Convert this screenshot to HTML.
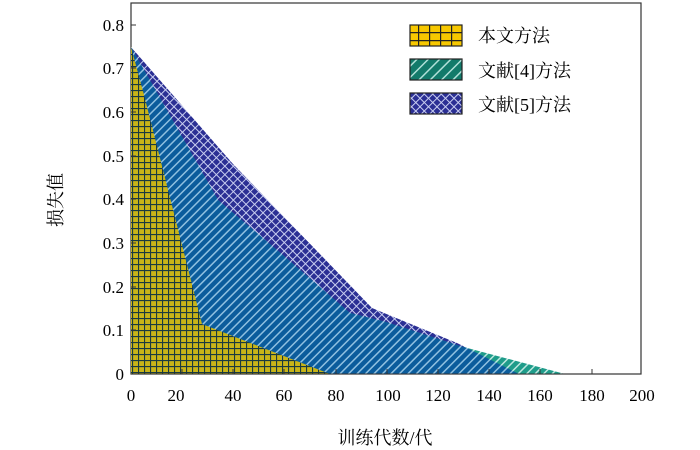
<!DOCTYPE html><html><head><style>body{margin:0;background:#fff}svg{display:block}text{font-family:"Liberation Serif","Noto Serif CJK SC",serif;fill:#000}</style></head><body>
<svg width="700" height="450" viewBox="0 0 700 450">
<defs>
<pattern id="grid" width="6" height="6" patternUnits="userSpaceOnUse"><rect width="6" height="6" fill="#c8b418"/><path d="M0 0.5H6M0.5 0V6" stroke="#1a3a40" stroke-width="1.2"/></pattern>
<pattern id="lgrid" width="11" height="8" patternUnits="userSpaceOnUse"><rect width="11" height="8" fill="#f7c800"/><path d="M0 0.5H11M0.5 0V8" stroke="#222" stroke-width="1.4"/></pattern>
<pattern id="teal" width="6" height="6" patternUnits="userSpaceOnUse" patternTransform="rotate(45)"><rect width="6" height="6" fill="#1f9c8a"/><rect width="1.5" height="6" fill="#bfe8e0"/></pattern>
<pattern id="ltealp" width="8" height="8" patternUnits="userSpaceOnUse" patternTransform="rotate(45)"><rect width="8" height="8" fill="#127a6a"/><rect width="1.5" height="8" fill="#b0e0d8"/></pattern>
<pattern id="blue" width="6" height="6" patternUnits="userSpaceOnUse" patternTransform="rotate(45)"><rect width="6" height="6" fill="#0b5c9c"/><rect width="1.5" height="6" fill="#8fc0e0"/></pattern>
<pattern id="purp" width="6" height="6" patternUnits="userSpaceOnUse" patternTransform="rotate(45)"><rect width="6" height="6" fill="#2b2f94"/><path d="M0 0.5H6M0.5 0V6" stroke="#c8cdf0" stroke-width="1"/></pattern>
<clipPath id="c5"><polygon points="131,47 233,164 372,308 457,343 519,374 131,374"/></clipPath>
</defs>
<rect x="131" y="3" width="510" height="371" fill="none" stroke="#333" stroke-width="1.2"/>
<polygon points="131,47 233,164 372,308 457,343 519,374 131,374" fill="url(#purp)"/>
<polygon points="131,47 218,200 284,256 350,313 386,322 460,346 565,374 131,374" fill="url(#teal)"/>
<polygon clip-path="url(#c5)" points="131,47 218,200 284,256 350,313 386,322 460,346 565,374 131,374" fill="url(#blue)"/>
<polygon points="131,47 144,95 202,324 330,374 131,374" fill="url(#grid)"/>
<g stroke="#333" stroke-width="1">
<path d="M131,374H641"/>
<path d="M131,330h5M131,287h5M131,243h5M131,199h5M131,156h5M131,112h5M131,68h5M131,25h5"/>
<path d="M182,374v-5M233,374v-5M284,374v-5M336,374v-5M387,374v-5M438,374v-5M489,374v-5M540,374v-5M592,374v-5"/>
</g>
<g font-size="17" text-anchor="end">
<text x="124" y="380">0</text><text x="124" y="336">0.1</text><text x="124" y="293">0.2</text><text x="124" y="249">0.3</text><text x="124" y="205">0.4</text><text x="124" y="162">0.5</text><text x="124" y="118">0.6</text><text x="124" y="74">0.7</text><text x="124" y="31">0.8</text>
</g>
<g font-size="17" text-anchor="middle">
<text x="131" y="401">0</text><text x="176" y="401">20</text><text x="233" y="401">40</text><text x="284" y="401">60</text><text x="336" y="401">80</text><text x="388" y="401">100</text><text x="438" y="401">120</text><text x="489" y="401">140</text><text x="540" y="401">160</text><text x="592" y="401">180</text><text x="642" y="401">200</text>
</g>
<text x="385" y="444" font-size="18" text-anchor="middle">训练代数/代</text>
<text transform="translate(62,200) rotate(-90)" font-size="18" text-anchor="middle">损失值</text>
<rect x="410" y="25" width="52" height="21" fill="url(#lgrid)" stroke="#222" stroke-width="1.2"/>
<rect x="410" y="59" width="52" height="21" fill="url(#ltealp)" stroke="#222" stroke-width="1.2"/>
<rect x="410" y="93" width="52" height="21" fill="url(#purp)" stroke="#222" stroke-width="1.2"/>
<g font-size="18"><text x="478" y="42">本文方法</text><text x="478" y="77">文献[4]方法</text><text x="478" y="111">文献[5]方法</text></g>
</svg></body></html>
